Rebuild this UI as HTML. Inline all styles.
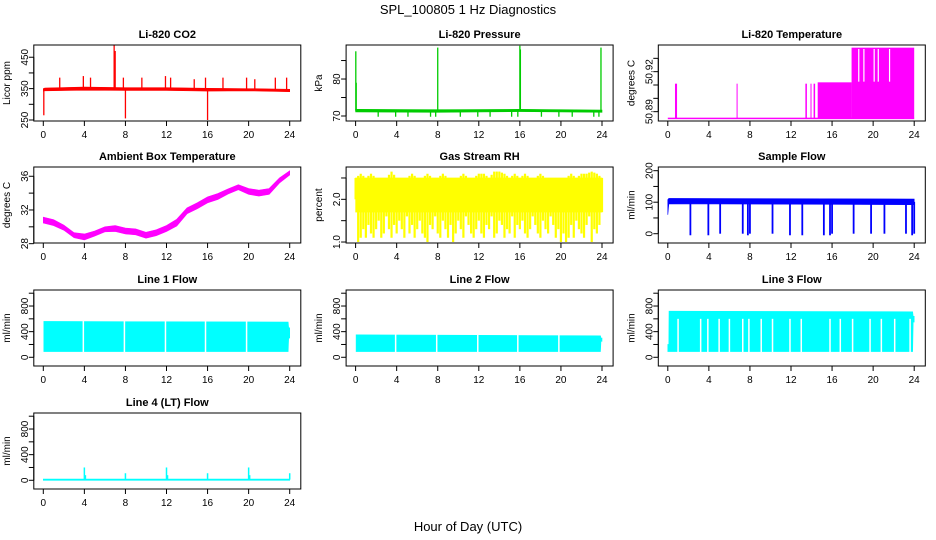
<!DOCTYPE html>
<html><head><meta charset="utf-8"><style>
html,body{margin:0;padding:0;background:#fff;}
svg{display:block;font-family:"Liberation Sans",sans-serif;}
</style></head><body>
<svg id="c" width="936" height="540" viewBox="0 0 936 540" xmlns="http://www.w3.org/2000/svg">
<text x="468" y="14" text-anchor="middle" font-size="13">SPL_100805  1 Hz Diagnostics</text>
<text x="468" y="531" text-anchor="middle" font-size="13">Hour of Day (UTC)</text>
</svg>
<script>
// ---- data arrays ----
const xTicks=[0,4,8,12,16,20,24];
// CO2
const co2T=[0,0.15,4,8,12,16,20,24];
const co2Lo=[342,343,345,344,344,342,343,340];
const co2Hi=[350,352,355,353,353,351,350,348];
const co2SpikeT=[0.05,1.6,3.9,4.6,6.9,7.0,7.8,8.0,9.6,11.9,12.4,14.7,15.8,16.0,17.5,19.8,20.6,22.6,23.7];
const co2SpikeV=[265,385,390,385,490,470,385,255,385,390,385,380,385,250,385,385,380,385,385];
// Pressure
const presT=[0,0.1,8,16,24];
const presLo=[71.1,71.1,71.0,71.2,71.0];
const presHi=[71.8,71.8,71.7,71.8,71.6];
const presSpikeT=[0.02,0.06,8.0,16.0,16.05,23.9,2.2,3.9,5.1,7.3,7.8,10.2,11.9,13.1,15.2,15.8,18.1,19.8,21.1,23.2,23.7];
const presSpikeV=[87.5,79,88.5,89,88,88.5,69.8,69.8,69.8,69.8,69.8,69.8,69.8,69.8,69.8,69.8,69.8,69.8,69.8,69.8,69.8];
// Li-820 temperature (segments)
const tempSegStart=[0,0.7,6.7,13.4,13.9,14.2,14.6,17.9];
const tempSegEnd=[24,0.9,6.73,13.55,13.95,14.35,17.9,24];
const tempSegLo=[50.885,50.885,50.885,50.885,50.885,50.885,50.885,50.885];
const tempSegHi=[50.8855,50.911,50.911,50.911,50.911,50.911,50.912,50.938];
const tempGapT=[18.6,19.1,20.1,20.5,21.6];
// Ambient box temperature
const ambMid=[30.8,30.5,29.9,29.0,28.8,29.2,29.7,29.8,29.5,29.4,29.0,29.3,29.8,30.5,31.9,32.5,33.2,33.6,34.2,34.7,34.2,34.0,34.2,35.5,36.4];
const ambHalf=[0.35,0.35,0.3,0.3,0.35,0.3,0.3,0.35,0.35,0.35,0.35,0.35,0.35,0.4,0.35,0.35,0.35,0.35,0.3,0.3,0.35,0.35,0.35,0.3,0.25];
// Gas stream RH
const rhLo=[2.0,1.0,1.1,1.3,1.1,1.4,1.2,1.1,1.3,1.5,1.1,1.2,1.6,1.3,1.1,1.4,1.2,1.5,1.3,1.1,1.6,1.2,1.4,1.1,1.3,1.5,1.2,1.1,1.0,1.4,1.3,1.6,1.2,1.1,1.5,1.3,1.1,1.4,1.0,1.2,1.5,1.3,1.1,1.6,1.4,1.2,1.1,1.3,1.5,1.2,1.1,1.4,1.3,1.6,1.1,1.2,1.5,1.4,1.1,1.3,1.2,1.6,1.1,1.4,1.3,1.5,1.2,1.1,1.3,1.6,1.4,1.2,1.1,1.5,1.3,1.2,1.6,1.4,1.1,1.3,1.0,1.2,1.0,1.1,1.4,1.1,1.5,1.3,1.2,1.1,1.4,1.6,1.0,1.3,1.2,1.4,1.7];
const rhHi=[2.5,2.6,2.5,2.6,2.5,2.5,2.5,2.65,2.5,2.5,2.5,2.6,2.5,2.5,2.6,2.5,2.5,2.6,2.5,2.5,2.5,2.6,2.5,2.5,2.6,2.6,2.5,2.65,2.65,2.6,2.5,2.6,2.5,2.6,2.5,2.5,2.6,2.5,2.5,2.5,2.5,2.5,2.6,2.5,2.6,2.6,2.65,2.6,2.5];
// Sample flow
const sfT=[0,0.1,24];
const sfLo=[60,95,92];
const sfHi=[108,112,110];
const sfSpikeT=[2.2,3.95,5.1,7.3,7.8,8.0,10.2,11.9,13.1,15.2,15.8,16.0,18.1,19.8,21.1,23.2,23.8,24.0];
const sfSpikeV=[-5,-5,0,0,-5,0,0,-5,-5,-5,-5,0,0,0,0,0,-5,0];
// Line flows (band + gaps)
const l1T=[0.05,23.85,23.9,24.0];
const l1Lo=[90,90,300,300];
const l1Hi=[560,550,460,460];
const l1GapT=[3.9,7.9,11.9,15.8,19.8];
const l2T=[0.05,23.85,23.9,24.0];
const l2Lo=[90,90,250,250];
const l2Hi=[350,335,300,300];
const l2GapT=[3.9,7.9,11.9,15.8,19.8];
const l3T=[0.0,0.1,0.12,23.85,23.9,24.0];
const l3Lo=[90,90,90,90,550,550];
const l3Hi=[200,200,720,710,640,640];
const l3GapT=[1.0,3.2,3.9,5.0,6.0,7.3,7.9,9.1,10.2,11.9,13.0,15.8,16.8,18.0,19.7,20.8,22.1,23.6];
const l4Base=[10,10];
const l4SpikeT=[4.0,4.1,8.0,12.0,12.1,16.0,20.0,20.1,24.0];
const l4SpikeV=[200,80,110,200,80,110,200,80,110];

// ---- layout ----
const svg=document.getElementById('c');
const NS='http://www.w3.org/2000/svg';
const colX0=[43.3,355.6,667.8];
const rowTop=[45,167,290,413];
const BH=76;
function el(tag,attrs,parent){const e=document.createElementNS(NS,tag);for(const k in attrs)e.setAttribute(k,attrs[k]);(parent||svg).appendChild(e);return e;}

function makePanel(col,row,title,ylab,ylim,yticks,ylabels,key){
  const x0=colX0[col], left=x0-9.5, top=rowTop[row];
  const g=el('g',{});
  
  
  const sx=t=>x0+t*(246.4/24);
  const sy=v=>top+BH-(v-ylim[0])/(ylim[1]-ylim[0])*BH;
  const plot=el('g',{},g);
  
  
  const frame=el('rect',{x:left,y:top,width:267,height:BH,fill:'none',stroke:'#000','stroke-width':1},g);
  
  
  const tt=el('text',{x:left+133.5,y:top-7,'text-anchor':'middle','font-size':11,'font-weight':'bold'},g);
  tt.textContent=title;
  
  
  const xa=el('g',{},g);
  
  
  el('line',{x1:sx(0),x2:sx(24),y1:top+BH,y2:top+BH,stroke:'#000'},xa);
  xTicks.forEach(t=>{
    el('line',{x1:sx(t),x2:sx(t),y1:top+BH,y2:top+BH+5,stroke:'#000'},xa);
    const tx=el('text',{x:sx(t),y:top+BH+17,'text-anchor':'middle','font-size':10},xa);
    tx.textContent=t;
    
    
  });
  const ya=el('g',{},g);
  
  
  el('line',{x1:left,x2:left,y1:sy(yticks[0]),y2:sy(yticks[yticks.length-1]),stroke:'#000'},ya);
  yticks.forEach(v=>el('line',{x1:left-5,x2:left,y1:sy(v),y2:sy(v),stroke:'#000'},ya));
  ylabels.forEach(v=>{
    const yy=sy(v);
    const tx=el('text',{x:left-6,y:yy,'text-anchor':'middle','font-size':10,transform:`rotate(-90 ${left-6} ${yy})`},ya);
    tx.textContent=v;
    
    
  });
  const yl=el('text',{x:left-24,y:top+BH/2,'text-anchor':'middle','font-size':10,transform:`rotate(-90 ${left-24} ${top+BH/2})`},g);
  yl.textContent=ylab;
  
  
  return {sx,sy,plot};
}
function band(p,T,Lo,Hi,color){
  let d='M'+T.map((t,i)=>p.sx(t)+','+p.sy(Hi[i])).join('L');
  for(let i=T.length-1;i>=0;i--)d+='L'+p.sx(T[i])+','+p.sy(Lo[i]);
  const e=el('path',{d:d+'Z',fill:color,stroke:color,'stroke-width':0.6},p.plot);
  
  
}
function interp(T,V,t){if(t<=T[0])return V[0];for(let i=1;i<T.length;i++)if(t<=T[i])return V[i-1]+(V[i]-V[i-1])*(t-T[i-1])/(T[i]-T[i-1]);return V[V.length-1];}
function spikes(p,ST,SV,baseT,baseLo,baseHi,color,w){
  ST.forEach((t,i)=>{
    const b=(interp(baseT,baseLo,t)+interp(baseT,baseHi,t))/2;
    const e=el('line',{x1:p.sx(t),x2:p.sx(t),y1:p.sy(b),y2:p.sy(SV[i]),stroke:color,'stroke-width':w||1.5},p.plot);
    
    
  });
}
function gaps(p,G,lo,hi,w){
  G.forEach(t=>{
    const e=el('line',{x1:p.sx(t),x2:p.sx(t),y1:p.sy(lo),y2:p.sy(hi),stroke:'#fff','stroke-width':w||1.5},p.plot);
    
    
  });
}
const flowTicks=[0,200,400,600,800,1000], flowLabels=[0,400,800], flowLim=[-136,1050];

let p=makePanel(0,0,'Li-820 CO2','Licor ppm',[246.8,489],[250,300,350,400,450],[250,350,450],'co2');
band(p,co2T,co2Lo,co2Hi,'#ff0000');
spikes(p,co2SpikeT,co2SpikeV,co2T,co2Lo,co2Hi,'#ff0000',1.3);
p=makePanel(1,0,'Li-820 Pressure','kPa',[68.65,89.2],[70,75,80,85],[70,80],'pressure');
band(p,presT,presLo,presHi,'#00cc00');
spikes(p,presSpikeT,presSpikeV,presT,presLo,presHi,'#00cc00',1.3);
p=makePanel(2,0,'Li-820 Temperature','degrees C',[50.883,50.940],[50.89,50.9,50.91,50.92,50.93],[50.89,50.92],'li820-temp');
tempSegStart.forEach((s,i)=>{
  const e=el('rect',{x:p.sx(s),y:p.sy(tempSegHi[i]),width:Math.max(1,p.sx(tempSegEnd[i])-p.sx(s)),height:Math.max(1.5,p.sy(tempSegLo[i])-p.sy(tempSegHi[i])),fill:'#ff00ff'},p.plot);
  
  
});
gaps(p,tempGapT,50.9125,50.937,1.2);
p=makePanel(0,1,'Ambient Box Temperature','degrees C',[28.08,37.1],[28,30,32,34,36],[28,32,36],'ambient-temp');
{const T=ambMid.map((_,i)=>i*24/(ambMid.length-1));band(p,T,ambMid.map((m,i)=>m-ambHalf[i]),ambMid.map((m,i)=>m+ambHalf[i]),'#ff00ff');}
p=makePanel(1,1,'Gas Stream RH','percent',[0.977,2.757],[1.0,1.5,2.0,2.5],['1.0','2.0'],'rh');
rhLo.forEach((lo,i)=>{
  const t=i*24/(rhLo.length-1);
  const hi=interp(rhHi.map((_,j)=>j*24/(rhHi.length-1)),rhHi,t);
  const e=el('line',{x1:p.sx(t),x2:p.sx(t),y1:p.sy(lo),y2:p.sy(hi),stroke:'#ffff00','stroke-width':2.2},p.plot);
  
  
});
{const T=rhHi.map((_,j)=>j*24/(rhHi.length-1));band(p,T,rhHi.map(()=>1.7),rhHi.map(v=>Math.min(v,2.5)),'#ffff00');}
p=makePanel(2,1,'Sample Flow','ml/min',[-29.5,211.7],[0,50,100,150,200],[0,100,200],'sample-flow');
band(p,sfT,sfLo,sfHi,'#0000ff');
spikes(p,sfSpikeT,sfSpikeV,sfT,sfLo,sfHi,'#0000ff',1.8);
p=makePanel(0,2,'Line 1 Flow','ml/min',flowLim,flowTicks,flowLabels,'line1-flow');
band(p,l1T,l1Lo,l1Hi,'#00ffff');gaps(p,l1GapT,80,600,1.5);
p=makePanel(1,2,'Line 2 Flow','ml/min',flowLim,flowTicks,flowLabels,'line2-flow');
band(p,l2T,l2Lo,l2Hi,'#00ffff');gaps(p,l2GapT,80,380,1.5);
p=makePanel(2,2,'Line 3 Flow','ml/min',flowLim,flowTicks,flowLabels,'line3-flow');
band(p,l3T,l3Lo,l3Hi,'#00ffff');gaps(p,l3GapT,80,600,1.5);
p=makePanel(0,3,'Line 4 (LT) Flow','ml/min',flowLim,flowTicks,flowLabels,'line4-flow');
band(p,[0,24],l4Base.map(v=>v-10),l4Base.map(v=>v+10),'#00ffff');
spikes(p,l4SpikeT,l4SpikeV,[0,24],l4Base,l4Base,'#00ffff',1.5);
</script>
</body></html>
